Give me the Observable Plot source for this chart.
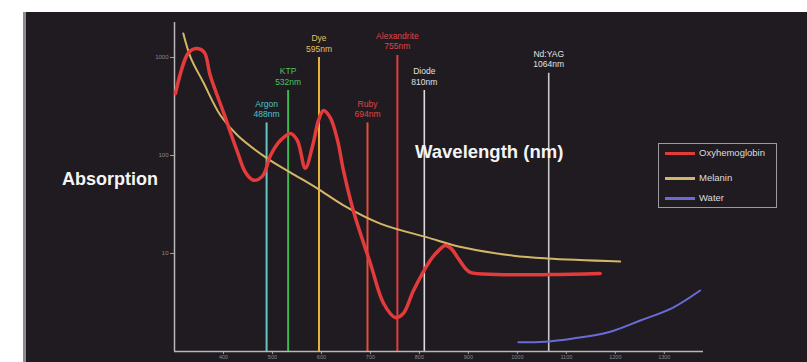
<!DOCTYPE html>
<html><head><meta charset="utf-8">
<script src="https://cdn.jsdelivr.net/npm/d3@7"></script>
<script src="https://cdn.jsdelivr.net/npm/@observablehq/plot@0.6"></script>
<style>
html,body{margin:0;padding:0;background:#fff;width:807px;height:362px;overflow:hidden;font-family:"Liberation Sans",Arial,sans-serif;}
#bg{position:absolute;left:23px;top:12px;width:781px;height:350px;background:#1f1b21;border-left:3px solid #8e8c90;}
#chart{position:absolute;left:0;top:0;}
.lbl{position:absolute;color:#f4f4f4;font-weight:bold;white-space:nowrap;line-height:18px;}
#legend{position:absolute;left:658px;top:143px;width:119px;height:65px;border:1px solid #9c9a9e;box-sizing:border-box;}
.sw{position:absolute;left:665px;width:30px;height:3px;}
.lt{position:absolute;left:699px;font-size:9.5px;line-height:12px;color:#dedede;white-space:nowrap;}
</style>
</head><body>
<div id="bg"></div>
<div id="chart"></div>
<div class="lbl" style="left:62px;top:170px;font-size:18px;">Absorption</div>
<div class="lbl" style="left:415px;top:143px;font-size:18.5px;">Wavelength (nm)</div>
<div id="legend"></div>
<div id="legitems"></div>
<script>
// Oxyhemoglobin absorption (wavelength nm, absorption)
const oxyNm  = [302,329,347,361,373,400,429,445,461,480,496,516,537,551,567,582,594,604,618,633,645,665,700,727,751,767,788,822,839,853,865,878,894,904,959,1067,1169];
const oxyAbs = [429,1125,1236,1125,655,275,107,67,56,62,100,142,168,142,74,126,228,288,244,142,70,27.5,7.9,3.09,2.22,2.44,4.19,8.48,10.7,12.1,11.2,9.1,7.03,6.4,6.1,6.1,6.25];
// Melanin
const melNm  = [318,333,359,394,429,490,537,592,645,720,816,890,992,1061,1210];
const melAbs = [1758,1000,556,256,160,93,67,46,31,20.2,14.6,11.5,9.5,8.9,8.3];
// Water
const watNm  = [1002,1057,1114,1184,1251,1318,1373];
const watAbs = [1.24,1.26,1.36,1.56,2.07,2.81,4.19];
// Lasers
const laserName = ["Argon","KTP","Dye","Ruby","Alexandrite","Diode","Nd:YAG"];
const laserNm   = [488,532,595,694,755,810,1064];
const laserTop  = [215,460,1000,215,1050,460,690];
// Axis ticks
const xTicks = [400,500,600,700,800,900,1000,1100,1200,1300];
const yTicks = [10,100,1000];
// Legend
const seriesNames = ["Oxyhemoglobin","Melanin","Water"];

// styles
const laserColor = ["#62c6c2","#3fb852","#e5b33c","#e2503c","#e23e3e","#dcdcdc","#c9c9c9"];
const laserText  = ["#4fc4c4","#4cc264","#e8c060","#e04444","#e04444","#e0e0e0","#e0e0e0"];
const seriesColor = ["#e33b3b","#d4b766","#6a6cd4"];

const oxy = oxyNm.map((x,i)=>({x, y: oxyAbs[i]}));
const mel = melNm.map((x,i)=>({x, y: melAbs[i]}));
const wat = watNm.map((x,i)=>({x, y: watAbs[i]}));

const laserMarks = [];
laserName.forEach((n,i)=>{
  const d = [{x: laserNm[i], top: laserTop[i], label: n + "\n" + laserNm[i] + "nm"}];
  laserMarks.push(Plot.ruleX(d, {x:"x", y1: 1, y2:"top", stroke: laserColor[i], strokeWidth: i>=5 ? 1.6 : 2}));
  laserMarks.push(Plot.text(d, {x:"x", y:"top", text:"label", fill: laserText[i], lineAnchor:"bottom", dy:-6, fontSize:8.5, lineHeight:1.2}));
});

const plot = Plot.plot({
  width: 807, height: 362,
  marginLeft: 174, marginRight: 104, marginTop: 22, marginBottom: 11,
  style: {background: "transparent", color: "#8a8a8a", fontFamily: "Liberation Sans, Arial, sans-serif"},
  x: {domain: [300, 1380]},
  y: {type: "log", domain: [1, 2276]},
  marks: [
    Plot.axisX({ticks: xTicks, tickSize: 3, tickPadding: 1, fontSize: 5.5, tickFormat: d3.format("d"), label: null, stroke: "#a0a0a0"}),
    Plot.axisY({ticks: yTicks, tickSize: 4, tickPadding: 2, fontSize: 6, tickFormat: d3.format("d"), label: null, stroke: "#a0a0a0"}),
    ...laserMarks,
    Plot.ruleX([300], {stroke: "#b8b8b8", strokeWidth: 1.5}),
    Plot.ruleY([1], {stroke: "#b8b8b8", strokeWidth: 1.5}),
    Plot.line(mel, {x:"x", y:"y", stroke: seriesColor[1], strokeWidth: 2, curve: "catmull-rom"}),
    Plot.line(wat, {x:"x", y:"y", stroke: seriesColor[2], strokeWidth: 2, curve: "catmull-rom"}),
    Plot.line(oxy, {x:"x", y:"y", stroke: seriesColor[0], strokeWidth: 3.5, curve: "catmull-rom"})
  ]
});
document.getElementById("chart").appendChild(plot);

const legTop = [153, 178, 198];
const li = document.getElementById("legitems");
seriesNames.forEach((n,i)=>{
  const s = document.createElement("div"); s.className="sw";
  s.style.top = (legTop[i]-1.5)+"px"; s.style.background = seriesColor[i];
  li.appendChild(s);
  const t = document.createElement("div"); t.className="lt";
  t.style.top = (legTop[i]-6)+"px"; t.textContent = n;
  li.appendChild(t);
});
</script>
</body></html>
